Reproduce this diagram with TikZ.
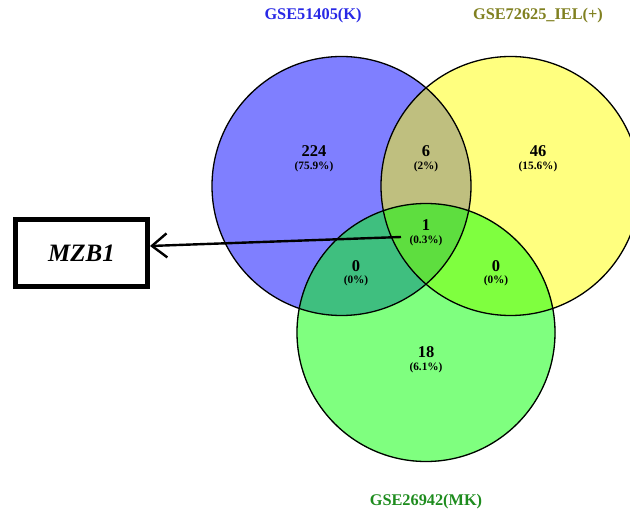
\documentclass[tikz,border=0pt]{standalone}
\usepackage{fontspec}
\setmainfont{Liberation Serif}
\usetikzlibrary{arrows.meta}
\definecolor{vblue}{RGB}{0,0,255}
\definecolor{vyellow}{RGB}{255,255,0}
\definecolor{vgreen}{RGB}{0,255,0}
\definecolor{tblue}{RGB}{40,40,230}
\definecolor{tolive}{RGB}{128,128,32}
\definecolor{tgreen}{RGB}{30,140,30}
\tikzset{
  setcircle/.style={circle, minimum size=259pt, inner sep=0pt, fill opacity=0.5},
  outline/.style={draw=black, line width=1.3pt},
  cnt/.style={font=\fontsize{16.5}{16.5}\selectfont\bfseries, inner sep=0pt},
  pct/.style={font=\fontsize{11.3}{11.3}\selectfont\bfseries, inner sep=0pt},
  title/.style={font=\fontsize{16.3}{16.3}\selectfont\bfseries, inner sep=0pt},
  genebox/.style={draw=black, line width=5pt, minimum width=132pt, minimum height=67pt, inner sep=0pt, fill=white},
  pointer/.style={line width=2.4pt, -{Straight Barb[length=15pt,width=24pt,line width=2.4pt]}}
}
\begin{document}
\begin{tikzpicture}[x=1pt,y=-1pt]
\useasboundingbox (0,0) rectangle (630,513);
% set circles
\node[setcircle, fill=vblue] (blue) at (341.5,186) {};
\node[setcircle, fill=vyellow] (yellow) at (510.5,186) {};
\node[setcircle, fill=vgreen] (green) at (426,332.5) {};
\draw[outline] (blue.center) circle[radius=129.5pt];
\draw[outline] (yellow.center) circle[radius=129.5pt];
\draw[outline] (green.center) circle[radius=129pt];
% titles
\node[title, text=tblue] (tb) at (313,16) {GSE51405(K)};
\node[title, text=tolive] (ty) at (538,16) {GSE72625\_IEL(+)};
\node[title, text=tgreen] (tg) at (426,502) {GSE26942(MK)};
% counts
\node[cnt] (n224) at (314,151.5) {224};
\node[pct] (p224) at (314,166.5) {(75.9\%)};
\node[cnt] (n6) at (426,151.5) {6};
\node[pct] (p6) at (426,166.5) {(2\%)};
\node[cnt] (n46) at (538,151.5) {46};
\node[pct] (p46) at (538,166.5) {(15.6\%)};
\node[cnt] (n1) at (426,225.5) {1};
\node[pct] (p1) at (426,241) {(0.3\%)};
\node[cnt] (n0l) at (356,266) {0};
\node[pct] (p0l) at (356,281) {(0\%)};
\node[cnt] (n0r) at (496,266) {0};
\node[pct] (p0r) at (496,281) {(0\%)};
\node[cnt] (n18) at (426,352.5) {18};
\node[pct] (p18) at (426,367.5) {(6.1\%)};
% gene box and pointer
\node[genebox, font=\fontsize{25}{25}\selectfont\bfseries\itshape] (mzb) at (81.5,253) {MZB1};
\coordinate (ptr) at (401,237);
\draw[pointer] (ptr) -- (mzb.east |- 0,246);
\end{tikzpicture}
\end{document}
